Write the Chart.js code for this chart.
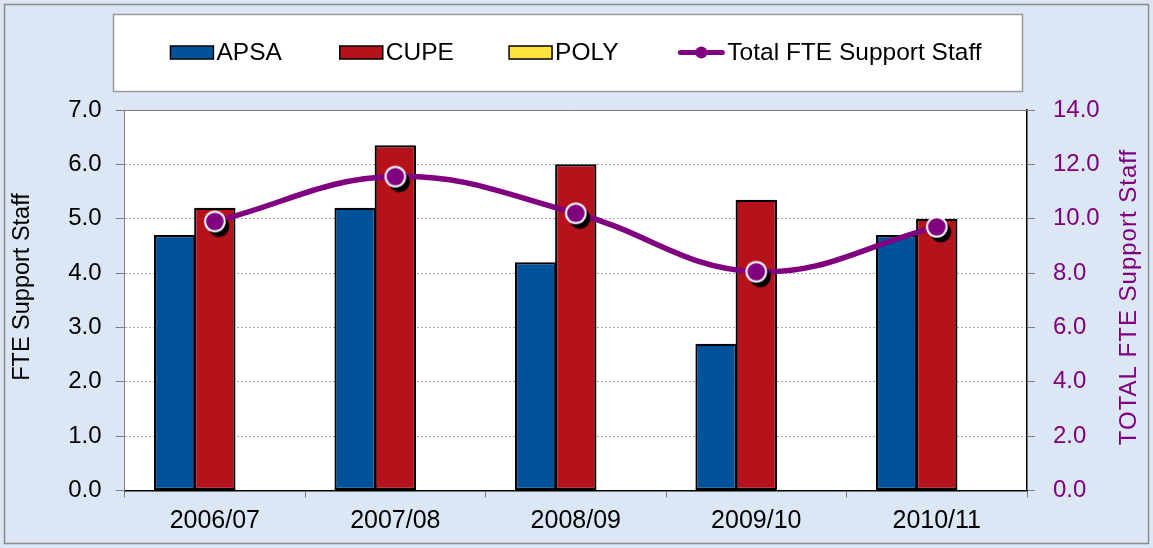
<!DOCTYPE html>
<html>
<head>
<meta charset="utf-8">
<script src="https://cdn.jsdelivr.net/npm/chart.js@4.4.0/dist/chart.umd.min.js"></script>
<style>
  html, body { margin: 0; padding: 0; background: #dae6f3; overflow: hidden; }
  #wrap { width: 1153px; height: 548px; position: relative; }
</style>
</head>
<body>
<div id="wrap"><canvas id="c" width="1153" height="548"></canvas></div>
<script>
// ---------- data ----------
const categories = ['2006/07', '2007/08', '2008/09', '2009/10', '2010/11'];
const apsa = [4.7, 5.2, 4.2, 2.7, 4.7];
const cupe = [5.2, 6.35, 6.0, 5.35, 5.0];
const poly = [0, 0, 0, 0, 0];
const totalFte = [9.9, 11.55, 10.2, 8.05, 9.7];
const seriesNames = ['APSA', 'CUPE', 'POLY', 'Total FTE Support Staff'];
const leftAxisTitle = 'FTE Support Staff';
const rightAxisTitle = 'TOTAL FTE Support Staff';
const leftRange = { min: 0, max: 7, step: 1 };
const rightRange = { min: 0, max: 14, step: 2 };

// ---------- styles ----------
const FONT = "'Liberation Sans', Arial, Helvetica, sans-serif";
const PURPLE = '#800080';
const BLUE = '#00529b';
const RED = '#b5121b';
const YELLOW = '#ffe23c';

function makeMarker() {
  const c = document.createElement('canvas');
  c.width = 36; c.height = 36;
  const g = c.getContext('2d');
  const cx = 18, cy = 18;
  g.fillStyle = '#000';
  g.beginPath(); g.arc(cx + 4, cy + 5, 10.5, 0, Math.PI * 2); g.fill();
  g.fillStyle = '#ffffff';
  g.beginPath(); g.arc(cx, cy, 10.8, 0, Math.PI * 2); g.fill();
  g.fillStyle = PURPLE;
  g.beginPath(); g.arc(cx, cy, 8.8, 0, Math.PI * 2); g.fill();
  return c;
}

const backgroundPlugin = {
  id: 'bgFrame',
  beforeDraw(chart) {
    const { ctx, chartArea: a } = chart;
    ctx.save();
    ctx.fillStyle = '#dbe7f4';
    ctx.fillRect(0, 0, chart.width, chart.height);
    ctx.strokeStyle = '#8c8c8c';
    ctx.lineWidth = 1.5;
    ctx.strokeRect(4.5, 4.5, chart.width - 9, chart.height - 9);
    ctx.fillStyle = '#ffffff';
    ctx.fillRect(a.left, a.top, a.right - a.left, a.bottom - a.top);
    ctx.restore();
  },
  beforeDatasetsDraw(chart) {
    const { ctx, chartArea: a } = chart;
    ctx.save();
    ctx.strokeStyle = '#7a7a7a';
    ctx.lineWidth = 1;
    ctx.beginPath();
    ctx.moveTo(a.left, a.top + 0.5);
    ctx.lineTo(a.right, a.top + 0.5);
    ctx.stroke();
    ctx.restore();
  },
  afterDraw(chart) {
    const ctx = chart.ctx;
    ctx.save();
    // axis titles
    ctx.textAlign = 'center';
    ctx.textBaseline = 'middle';
    ctx.fillStyle = '#000';
    ctx.font = '23.5px ' + FONT;
    ctx.translate(23, 287);
    ctx.rotate(-Math.PI / 2);
    ctx.fillText(leftAxisTitle, 0, 0);
    ctx.setTransform(1, 0, 0, 1, 0, 0);
    ctx.fillStyle = PURPLE;
    ctx.font = '24px ' + FONT;
    try { ctx.letterSpacing = '1px'; } catch (e) {}
    ctx.translate(1129, 297);
    ctx.rotate(-Math.PI / 2);
    ctx.fillText(rightAxisTitle, 0, 0);
    ctx.setTransform(1, 0, 0, 1, 0, 0);
    try { ctx.letterSpacing = '0px'; } catch (e) {}

    // legend box
    ctx.fillStyle = '#ffffff';
    ctx.fillRect(113, 14, 910, 77);
    ctx.strokeStyle = '#9a9a9a';
    ctx.lineWidth = 1.5;
    ctx.strokeRect(113.5, 14.5, 909, 77);

    ctx.font = '24.5px ' + FONT;
    ctx.textAlign = 'left';
    ctx.textBaseline = 'middle';
    const items = chart.data.datasets.map(ds => ({
      text: ds.label, type: ds.type || 'bar', fill: ds.backgroundColor
    }));
    const gapText = 3, slot = 169.3;
    const last = items[items.length - 1];
    const lastW = (last.type === 'line' ? 46 : 43) + gapText + ctx.measureText(last.text).width;
    const total = slot * (items.length - 1) + lastW;
    const x0 = 576 - total / 2;
    const y = 52.5;
    items.forEach((it, i) => {
      const x = x0 + i * slot;
      if (it.type === 'line') {
        ctx.strokeStyle = PURPLE;
        ctx.lineWidth = 5;
        ctx.lineCap = 'round';
        ctx.beginPath(); ctx.moveTo(x + 2, y); ctx.lineTo(x + 44, y); ctx.stroke();
        ctx.fillStyle = PURPLE;
        ctx.beginPath(); ctx.arc(x + 23, y, 6, 0, Math.PI * 2); ctx.fill();
        ctx.fillStyle = '#000';
        ctx.fillText(it.text, x + 46 + gapText, y + 1);
      } else {
        ctx.fillStyle = it.fill;
        ctx.fillRect(x, y - 6.5, 43, 13);
        ctx.strokeStyle = '#000';
        ctx.lineWidth = 1.5;
        ctx.strokeRect(x, y - 6.5, 43, 13);
        ctx.fillStyle = '#000';
        ctx.fillText(it.text, x + 43 + gapText, y + 1);
      }
    });
    ctx.restore();
  }
};

const barCommon = {
  borderColor: '#000',
  borderWidth: 2.2,
  borderSkipped: false,
  categoryPercentage: 0.668,
  barPercentage: 1.03,
  yAxisID: 'y',
  order: 1
};

new Chart(document.getElementById('c'), {
  type: 'bar',
  data: {
    labels: categories,
    datasets: [
      Object.assign({ label: seriesNames[0], data: apsa, backgroundColor: BLUE }, barCommon),
      Object.assign({ label: seriesNames[1], data: cupe, backgroundColor: RED }, barCommon),
      Object.assign({ label: seriesNames[2], data: poly, backgroundColor: YELLOW }, barCommon),
      {
        type: 'line',
        label: seriesNames[3],
        data: totalFte,
        yAxisID: 'y1',
        order: 0,
        borderColor: PURPLE,
        backgroundColor: PURPLE,
        borderWidth: 5.5,
        tension: 0.4,
        fill: false,
        pointStyle: makeMarker(),
        pointRadius: 10,
        pointHoverRadius: 10
      }
    ]
  },
  options: {
    responsive: false,
    animation: false,
    devicePixelRatio: 1,
    layout: { padding: { top: 110, left: 0, right: 0, bottom: 0 } },
    plugins: { legend: { display: false }, tooltip: { enabled: false } },
    font: { family: FONT },
    scales: {
      x: {
        offset: true,
        grid: { offset: true, drawOnChartArea: false, drawTicks: true, tickLength: 7, tickColor: '#808080', tickWidth: 1 },
        border: { color: '#000', width: 1.5 },
        ticks: { color: '#000', font: { size: 25, family: FONT }, padding: 9, maxRotation: 0, autoSkip: false },
        afterFit(s) { s.height = 57.5; }
      },
      y: {
        position: 'left',
        min: leftRange.min, max: leftRange.max,
        ticks: { stepSize: leftRange.step, callback: v => Number(v).toFixed(1), color: '#000', font: { size: 24, family: FONT }, padding: 14 },
        grid: { color: '#a6a6a6', lineWidth: 1, tickLength: 9, tickColor: '#808080', tickWidth: 1, tickBorderDash: [] },
        border: { color: '#808080', width: 1, dash: [2, 2] },
        afterFit(s) { s.width = 124.6; }
      },
      y1: {
        position: 'right',
        min: rightRange.min, max: rightRange.max,
        ticks: { stepSize: rightRange.step, callback: v => Number(v).toFixed(1), color: PURPLE, font: { size: 24, family: FONT }, padding: 18 },
        grid: { drawOnChartArea: false, tickLength: 8, tickColor: '#808080', tickWidth: 1 },
        border: { color: '#000', width: 1.5 },
        afterFit(s) { s.width = 126; }
      }
    }
  },
  plugins: [backgroundPlugin]
});
</script>
</body>
</html>
